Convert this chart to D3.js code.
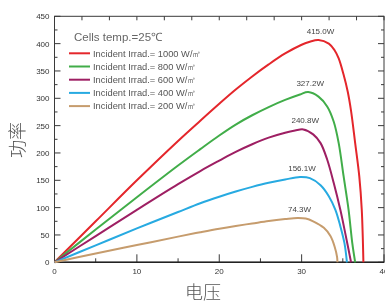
<!DOCTYPE html>
<head>
  <meta charset="utf-8">
  <script src="https://d3js.org/d3.v7.min.js"></script>
  <style>
    body { margin:0;position:fixed;top:0;right:0;bottom:0;left:0;background:#fff; }
    text { font-family: "Liberation Sans", Arial, sans-serif; }
  </style>
</head>

<body>
  <svg width="385" height="303" id="vis"></svg>
<script>
  // irradiance levels and the max-power labels drawn above each curve
  var irrad = ["1000", "800", "600", "400", "200"];
  var peakLabels = ["415.0W", "327.2W", "240.8W", "156.1W", "74.3W"];
  var colors = ["#e4262b", "#41ad49", "#9e1f63", "#27aae1", "#c69c6d"];

  // voltage (V) / power (W)
  var v1000 = [0, 5, 10, 15, 17.7, 20, 22, 24, 26, 28, 30, 31, 32.05, 33.3, 34, 34.5, 35.1, 35.6, 36.0, 36.5, 37.0, 37.3, 37.5];
  var p1000 = [0, 75, 150, 222, 259, 290, 316, 340, 362, 382, 398, 403.5, 406.5, 400, 388, 373, 343, 312, 277, 218, 157, 96, 0];
  var v800 = [0, 5, 10, 15, 17.7, 20, 22, 24, 26, 28, 29.8, 30.8, 32.05, 33.1, 33.9, 34.5, 35.1, 35.7, 36.15, 36.5];
  var p800 = [0, 60, 119, 177, 207, 232, 252, 269, 284, 297, 307, 311.5, 303, 285, 257, 218, 157, 96, 35, 0];
  var v600 = [0, 5, 10, 15, 17.7, 20, 22, 24, 26, 28, 29.2, 30.2, 31.4, 32.3, 33.1, 33.9, 34.7, 35.3, 35.7, 36.0];
  var p600 = [0, 48, 96, 143, 167, 186, 202, 216, 228, 237, 241, 243, 234, 218, 188, 145, 96, 53, 23, 0];
  var v400 = [0, 5, 10, 15, 17.7, 20, 22, 24, 26, 28, 29.8, 31.0, 32.3, 33.3, 34.1, 34.7, 35.2, 35.5];
  var p400 = [0, 31, 62, 92, 108, 120, 129.5, 138, 145.5, 151.5, 156, 154, 141, 121, 96, 66, 35, 0];
  var v200 = [0, 5, 10, 15, 17.7, 20, 22, 24, 26, 28, 29.5, 30.5, 31.4, 32.7, 33.5, 34.0, 34.3, 34.35];
  var p200 = [0, 16, 31.5, 47, 55, 61.5, 66.5, 71, 75.5, 79, 81, 80, 75, 63, 48, 29, 10, 0];

  var volts = [v1000, v800, v600, v400, v200];
  var powers = [p1000, p800, p600, p400, p200];

  var xTicks = [0, 10, 20, 30, 40];
  var yTicks = [0, 50, 100, 150, 200, 250, 300, 350, 400, 450];

  var svg = d3.select("#vis"),
    margin = {top: 16.3, right: 1, bottom: 40.7, left: 54.5},
    width = +svg.attr("width") - margin.left - margin.right,
    height = +svg.attr("height") - margin.top - margin.bottom,
    g = svg.append("g").attr("transform", "translate(" + margin.left + "," + margin.top + ")");

  var x = d3.scaleLinear().domain([0, 40]).range([0, width]),
      y = d3.scaleLinear().domain([0, 450]).range([height, 0]);

  var frame = "#3a3a3a";

  // minor ticks
  var xMinor = d3.range(0, 41, 5), yMinor = d3.range(0, 451, 25);
  var xTop = d3.range(13).map(function(i) { return i * 40 / 12; });

  g.selectAll(".tb").data(xMinor).enter().append("line")
    .attr("x1", x).attr("x2", x)
    .attr("y1", height)
    .attr("y2", function(d) { return height - (d % 10 === 0 ? 8 : 4); })
    .attr("stroke", frame);
  g.selectAll(".tt").data(xTop).enter().append("line")
    .attr("x1", x).attr("x2", x)
    .attr("y1", 0).attr("y2", 4)
    .attr("stroke", frame);
  g.selectAll(".tl").data(yMinor).enter().append("line")
    .attr("y1", y).attr("y2", y)
    .attr("x1", 0)
    .attr("x2", function(d) { return d % 50 === 0 ? 6 : 3; })
    .attr("stroke", frame);
  g.selectAll(".tr").data(yMinor).enter().append("line")
    .attr("y1", y).attr("y2", y)
    .attr("x1", width)
    .attr("x2", function(d) { return width - (d % 50 === 0 ? 6 : 3); })
    .attr("stroke", frame);

  // frame
  g.append("rect").attr("width", width).attr("height", height)
    .attr("fill", "none").attr("stroke", frame).attr("stroke-width", 1);
  g.append("line").attr("x1", 0).attr("x2", width).attr("y1", height).attr("y2", height)
    .attr("stroke", "#222").attr("stroke-width", 1.5);

  // tick labels
  g.selectAll(".xl").data(xTicks).enter().append("text")
    .attr("x", x).attr("y", height + 12)
    .attr("text-anchor", "middle")
    .style("font-size", "8px").attr("fill", "#333")
    .text(function(d) { return d; });
  g.selectAll(".yl").data(yTicks).enter().append("text")
    .attr("x", -5).attr("y", function(d) { return y(d) + 3; })
    .attr("text-anchor", "end")
    .style("font-size", "8px").attr("fill", "#333")
    .text(function(d) { return d; });

  // curves
  var line = d3.line()
    .x(function(d) { return x(d[0]); })
    .y(function(d) { return y(d[1]); })
    .curve(d3.curveCatmullRom.alpha(0.5));

  volts.forEach(function(vs, i) {
    var pts = vs.map(function(v, j) { return [v, powers[i][j]]; });
    g.append("path").datum(pts)
      .attr("d", line)
      .attr("fill", "none")
      .attr("stroke", colors[i])
      .attr("stroke-width", 2);

    var top = pts.reduce(function(a, b) { return b[1] > a[1] ? b : a; });
    g.append("text")
      .attr("x", x(top[0]) + 2)
      .attr("y", y(top[1]) - 6)
      .attr("text-anchor", "middle")
      .style("font-size", "8px").attr("fill", "#444")
      .text(peakLabels[i]);
  });

  // legend
  var lg = svg.append("g").attr("transform", "translate(69,37)");
  lg.append("text").attr("x", 5).attr("y", 4)
    .style("font-size", "11.5px").attr("fill", "#666")
    .text("Cells temp.=25℃");
  irrad.forEach(function(r, i) {
    var yy = 16.3 + i * 13.2;
    lg.append("line").attr("x1", 0).attr("x2", 21).attr("y1", yy).attr("y2", yy)
      .attr("stroke", colors[i]).attr("stroke-width", 2);
    lg.append("text").attr("x", 24).attr("y", yy + 3.3)
      .style("font-size", "9.3px").attr("fill", "#555")
      .text("Incident Irrad.= " + r + " W/㎡");
  });

  // axis titles
  svg.append("text")
    .attr("transform", "translate(24,140) rotate(-90)")
    .attr("text-anchor", "middle")
    .style("font-family", "'Noto Sans CJK SC', sans-serif")
    .style("font-size", "18px").style("font-weight", 300).attr("fill", "#555")
    .text("功率");
  svg.append("text")
    .attr("x", 203).attr("y", 299)
    .attr("text-anchor", "middle")
    .style("font-family", "'Noto Sans CJK SC', sans-serif")
    .style("font-size", "18px").style("font-weight", 300).attr("fill", "#555")
    .text("电压");
</script>
</body>
